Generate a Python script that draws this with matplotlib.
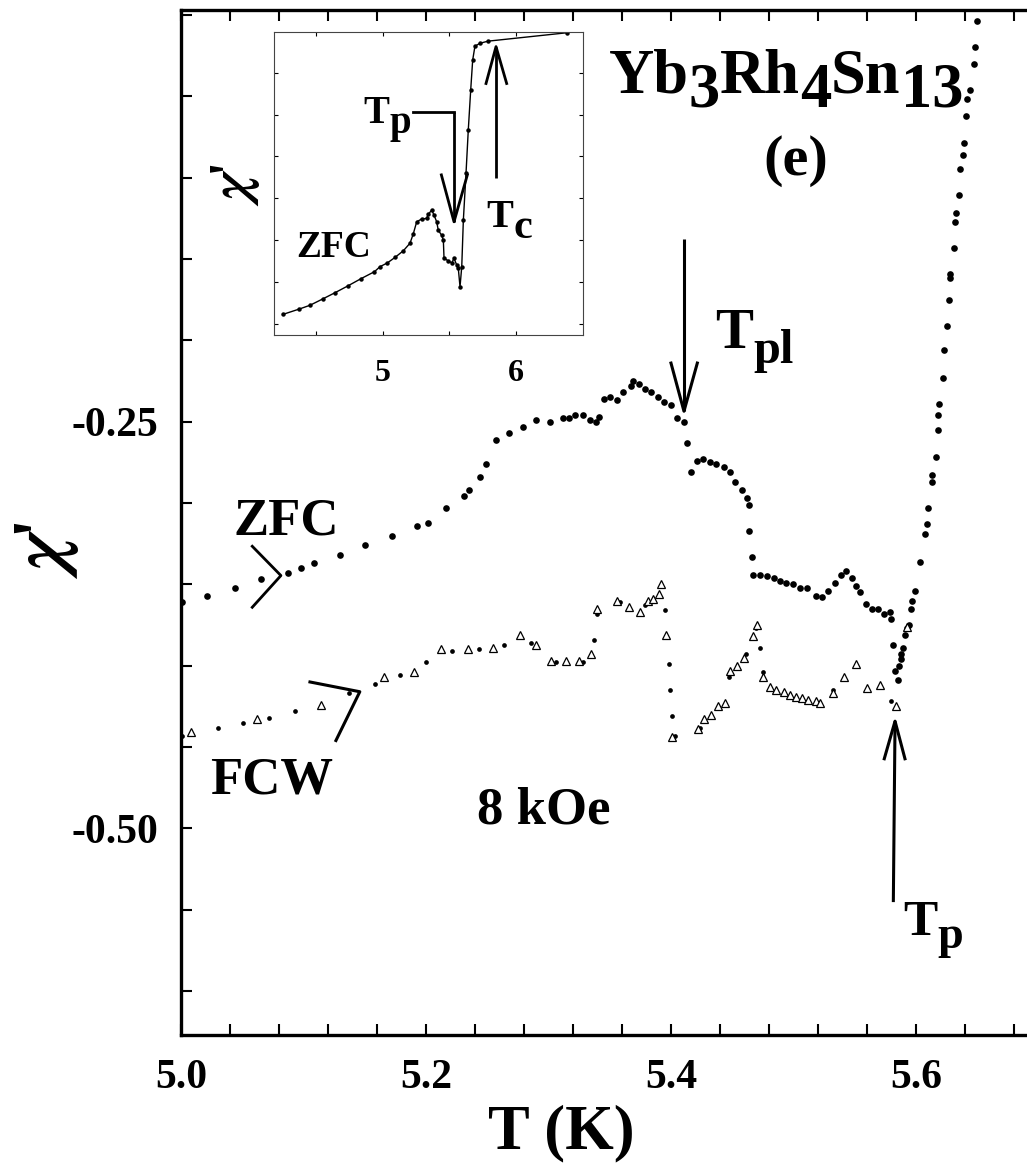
import matplotlib
matplotlib.use("Agg")
import matplotlib.pyplot as plt
from matplotlib.ticker import MultipleLocator
from matplotlib.transforms import offset_copy

plt.rcParams['font.family'] = ['Liberation Serif', 'DejaVu Serif']
plt.rcParams['font.weight'] = 'bold'

# ---- main panel data: chi' vs T at 8 kOe ----
zfc_T = [5.001, 5.021, 5.044, 5.065, 5.087, 5.098, 5.109, 5.130, 5.150, 5.172,
         5.193, 5.202, 5.216, 5.231, 5.235, 5.244, 5.249, 5.257, 5.268, 5.279,
         5.290, 5.301, 5.312, 5.317, 5.322, 5.328, 5.334, 5.339, 5.341, 5.345,
         5.350, 5.356, 5.361, 5.367, 5.369, 5.374, 5.379, 5.384, 5.389, 5.394,
         5.400, 5.405, 5.411, 5.413, 5.416, 5.421, 5.426, 5.432, 5.437, 5.443,
         5.448, 5.452, 5.458, 5.462, 5.464, 5.464, 5.466, 5.467, 5.473, 5.478,
         5.484, 5.489, 5.494, 5.500, 5.505, 5.511, 5.518, 5.523, 5.528, 5.534,
         5.539, 5.543, 5.548, 5.551, 5.554, 5.559, 5.564, 5.569, 5.574, 5.579,
         5.580, 5.581, 5.583, 5.585, 5.586, 5.588, 5.588, 5.589, 5.591, 5.593,
         5.594, 5.596, 5.597, 5.599, 5.603, 5.607, 5.609, 5.610, 5.613, 5.613,
         5.616, 5.618, 5.618, 5.619, 5.622, 5.623, 5.625, 5.627, 5.628, 5.628,
         5.631, 5.632, 5.633, 5.635, 5.636, 5.638, 5.639, 5.641, 5.642, 5.644,
         5.647, 5.648, 5.650]
zfc_chi = [-0.361, -0.357, -0.352, -0.347, -0.343, -0.340, -0.337, -0.332, -0.326, -0.320,
           -0.314, -0.312, -0.303, -0.296, -0.292, -0.284, -0.276, -0.261, -0.257, -0.253,
           -0.249, -0.250, -0.248, -0.248, -0.246, -0.246, -0.249, -0.250, -0.247, -0.236,
           -0.235, -0.237, -0.232, -0.228, -0.225, -0.227, -0.230, -0.232, -0.235, -0.238,
           -0.240, -0.248, -0.250, -0.263, -0.281, -0.274, -0.273, -0.275, -0.276, -0.278,
           -0.281, -0.287, -0.292, -0.297, -0.301, -0.317, -0.333, -0.344, -0.344, -0.345,
           -0.346, -0.348, -0.349, -0.350, -0.352, -0.352, -0.357, -0.358, -0.354, -0.349,
           -0.344, -0.342, -0.346, -0.351, -0.355, -0.362, -0.365, -0.365, -0.368, -0.367,
           -0.371, -0.387, -0.403, -0.409, -0.400, -0.396, -0.393, -0.389, -0.381, -0.377,
           -0.375, -0.365, -0.360, -0.354, -0.336, -0.319, -0.313, -0.303, -0.287, -0.283,
           -0.272, -0.255, -0.246, -0.239, -0.223, -0.206, -0.191, -0.175, -0.162, -0.159,
           -0.143, -0.127, -0.122, -0.111, -0.095, -0.086, -0.079, -0.062, -0.052, -0.046,
           -0.030, -0.020, -0.004]

fcw_dot_T = [5.001, 5.030, 5.051, 5.072, 5.093, 5.137, 5.158, 5.179, 5.200, 5.221,
             5.243, 5.264, 5.286, 5.306, 5.328, 5.337, 5.340, 5.358, 5.379, 5.395,
             5.398, 5.399, 5.401, 5.403, 5.424, 5.447, 5.461, 5.469, 5.473, 5.475,
             5.532, 5.580]
fcw_dot_chi = [-0.443, -0.438, -0.435, -0.432, -0.428, -0.417, -0.411, -0.406, -0.398, -0.391,
               -0.390, -0.387, -0.386, -0.398, -0.398, -0.384, -0.368, -0.361, -0.363, -0.366,
               -0.399, -0.415, -0.431, -0.443, -0.438, -0.407, -0.393, -0.377, -0.389, -0.404,
               -0.415, -0.422]

fcw_tri_T = [5.008, 5.062, 5.114, 5.166, 5.190, 5.212, 5.234, 5.255, 5.277, 5.290,
             5.302, 5.314, 5.325, 5.335, 5.340, 5.356, 5.366, 5.375, 5.381, 5.385,
             5.390, 5.392, 5.396, 5.401, 5.422, 5.427, 5.433, 5.438, 5.444, 5.448,
             5.454, 5.460, 5.467, 5.470, 5.475, 5.481, 5.486, 5.492, 5.497, 5.502,
             5.507, 5.512, 5.518, 5.522, 5.532, 5.541, 5.551, 5.560, 5.571, 5.584,
             5.593]
fcw_tri_chi = [-0.441, -0.433, -0.424, -0.407, -0.404, -0.390, -0.390, -0.389, -0.381, -0.387,
               -0.397, -0.397, -0.397, -0.393, -0.365, -0.360, -0.364, -0.367, -0.360, -0.359,
               -0.356, -0.350, -0.381, -0.444, -0.439, -0.433, -0.430, -0.425, -0.423, -0.403,
               -0.400, -0.395, -0.382, -0.375, -0.407, -0.413, -0.415, -0.416, -0.418, -0.419,
               -0.420, -0.421, -0.422, -0.423, -0.417, -0.407, -0.399, -0.414, -0.412, -0.425,
               -0.376]

# ---- inset data (zero field ZFC, arbitrary units) ----
ins_T = [4.25, 4.375, 4.455, 4.55, 4.643, 4.738, 4.835, 4.938, 4.98, 5.035,
         5.092, 5.155, 5.205, 5.23, 5.255, 5.293, 5.33, 5.342, 5.368, 5.385,
         5.405, 5.417, 5.442, 5.455, 5.46, 5.492, 5.518, 5.535, 5.555, 5.567,
         5.58, 5.593, 5.605, 5.625, 5.642, 5.66, 5.675, 5.692, 5.73, 5.79, 6.38]
ins_chi = [0.23, 0.36, 0.45, 0.60, 0.75, 0.91, 1.08, 1.25, 1.37, 1.46,
           1.59, 1.75, 1.93, 2.16, 2.44, 2.51, 2.52, 2.62, 2.72, 2.60,
           2.44, 2.24, 2.12, 2.00, 1.57, 1.51, 1.46, 1.57, 1.41, 1.33,
           0.89, 1.37, 2.48, 3.60, 4.63, 5.58, 6.30, 6.63, 6.70, 6.75, 6.95]

main_xticks = [5.0, 5.2, 5.4, 5.6]
main_xticklabels = ['5.0', '5.2', '5.4', '5.6']
main_yticks = [-0.50, -0.25]
main_yticklabels = ['-0.50', '-0.25']
ins_xticks = [4.5, 5.0, 5.5, 6.0]
ins_xticklabels = ['', '5', '', '6']

CHI = r"$\boldsymbol{\chi}$'"


def subtext(ax, x, y, parts, size, transform=None):
    """write text pieces one after another, each shifted down by dy pixels"""
    fig = ax.figure
    r = fig.canvas.get_renderer()
    tr = transform if transform is not None else ax.transData
    dx = 0.0
    for s, dy, scale in parts:
        t = ax.text(x, y, s, fontsize=size * scale, fontweight='bold',
                    ha='left', va='baseline',
                    transform=offset_copy(tr, x=dx, y=dy, units='dots'))
        dx += t.get_window_extent(r).width


def open_arrow(ax, x0, y0, x1, y1, ax_l, ax_r, ay, lw):
    # shaft from (x0,y0) to tip (x1,y1), open V head with arms at height ay
    ax.plot([x0, x1], [y0, y1], color='black', lw=lw, solid_capstyle='butt')
    ax.plot([ax_l, x1, ax_r], [ay, y1, ay], color='black', lw=lw)


fig = plt.figure(figsize=(10.27, 11.64), dpi=100)
ax = fig.add_axes([0.1762, 0.1108, 0.8350, 0.8806])

ax.plot(zfc_T, zfc_chi, 'o', color='black', ms=4.8, mew=0)
ax.plot(fcw_dot_T, fcw_dot_chi, 'o', color='black', ms=3.4, mew=0)
ax.plot(fcw_tri_T, fcw_tri_chi, '^', mfc='white', mec='black', ms=5.5, mew=0.9)

ax.set_xlim(5.0, 5.7)
ax.set_ylim(-0.627, 0.003)
ax.set_xticks(main_xticks, main_xticklabels)
ax.set_yticks(main_yticks, main_yticklabels)
ax.xaxis.set_minor_locator(MultipleLocator(0.04))
ax.yaxis.set_minor_locator(MultipleLocator(0.05))
ax.tick_params(which='both', direction='in', top=True, right=True, width=1.5, length=8)
ax.tick_params(axis='x', labelsize=30, pad=17)
ax.tick_params(axis='y', labelsize=30, pad=16)
for s in ax.spines.values():
    s.set_linewidth(2.4)

ax.set_xlabel('T (K)', fontsize=45, fontweight='bold', va='top')
ax.xaxis.set_label_coords(0.443, -0.068)
ax.set_ylabel(CHI, fontsize=54, fontweight='bold', va='center', ha='center',
              math_fontfamily='stix')
ax.yaxis.set_label_coords(-0.156, 0.473)

# labels and arrows in the main panel
subtext(ax, 5.349, -0.048, [('Yb', 0, 1), ('3', -14, 1), ('Rh', 0, 1), ('4', -14, 1),
                            ('Sn', 0, 1), ('13', -14, 1)], 45)
ax.text(5.502, -0.0897, '(e)', fontsize=42, fontweight='bold', ha='center', va='center')
subtext(ax, 5.436, -0.2045, [('T', 0, 1), ('pl', -15, 0.85)], 41)
open_arrow(ax, 5.4106, -0.1376, 5.4106, -0.2436, 5.400, 5.4215, -0.214, 2.2)

ax.text(5.0427, -0.3194, 'ZFC', fontsize=38, fontweight='bold')
ax.plot([5.0582, 5.0816, 5.0582], [-0.3266, -0.3446, -0.3641], color='black', lw=2.0)
ax.text(5.0237, -0.4787, 'FCW', fontsize=38, fontweight='bold')
ax.plot([5.1053, 5.146, 5.1265], [-0.410, -0.416, -0.446], color='black', lw=2.2)
ax.text(5.2414, -0.4971, '8 kOe', fontsize=38, fontweight='bold')

subtext(ax, 5.5894, -0.5657, [('T', 0, 1), ('p', -13, 0.9)], 37)
open_arrow(ax, 5.5815, -0.5453, 5.5829, -0.4341, 5.5741, 5.5910, -0.4572, 2.2)

# ---- inset ----
ins = fig.add_axes([0.2671, 0.7122, 0.3009, 0.2600])
ins.plot(ins_T, ins_chi, '-', color='black', lw=1.0, marker='o', ms=2.2)
ins.set_xlim(4.187, 6.505)
ins.set_ylim(-0.26, 6.96)
ins.set_xticks(ins_xticks, ins_xticklabels)
ins.set_yticks(range(0, 7))
ins.set_yticklabels([])
ins.tick_params(which='both', direction='in', top=True, right=True, width=0.8, length=3,
                labelsize=23, pad=17)
for s in ins.spines.values():
    s.set_linewidth(0.8)
    s.set_color('#444444')
ins.set_ylabel(CHI, fontsize=40, fontweight='bold', va='center', ha='center',
               math_fontfamily='stix')
ins.yaxis.set_label_coords(-0.124, 0.496)

ins.text(4.355, 1.61, 'ZFC', fontsize=27, fontweight='bold')
subtext(ins, 4.854, 4.80, [('T', 0, 1), ('p', -10, 1.0)], 28)
ins.plot([5.227, 5.535], [5.07, 5.07], color='black', lw=2.0)
open_arrow(ins, 5.535, 5.07, 5.535, 2.44, 5.44, 5.635, 3.56, 2.0)
subtext(ins, 5.78, 2.32, [('T', 0, 1), ('c', -11, 1.05)], 29)
open_arrow(ins, 5.85, 3.48, 5.85, 6.62, 5.775, 5.93, 5.74, 2.0)

fig.savefig('out.png', dpi=100)
